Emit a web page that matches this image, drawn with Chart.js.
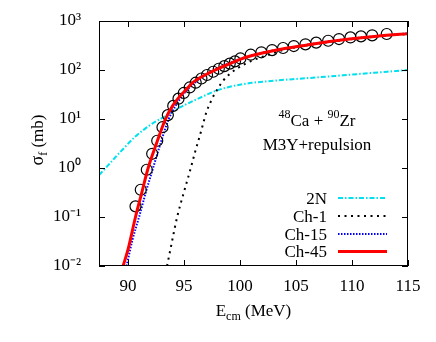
<!DOCTYPE html>
<html>
<head>
<meta charset="utf-8">
<script src="https://cdn.jsdelivr.net/npm/chart.js@4.4.1/dist/chart.umd.min.js"></script>
<style>
  html, body { margin: 0; padding: 0; background: #fff; }
  canvas { display: block; }
</style>
</head>
<body>
<canvas id="fusionChart" width="436" height="342"></canvas>
<script>
// ---------------------------------------------------
// 48Ca + 90Zr fusion cross section, M3Y+repulsion
// ---------------------------------------------------

// Experimental points (open circles)
var expEnergy = [90.66, 91.13, 91.67, 92.15, 92.6, 93.07, 93.55, 94.03, 94.5, 94.97,
                 95.5, 96.04, 96.55, 97.05, 97.6, 98.1, 98.6, 99.08, 99.55, 100.03,
                 100.95, 101.9, 102.86, 103.84, 104.8, 105.84, 106.8, 107.87, 108.84,
                 109.86, 110.8, 111.8, 113.1];
var expSigma = [0.165, 0.36, 0.92, 1.95, 3.6, 6.8, 12, 18.5, 26, 34,
                44, 55, 67, 79, 92, 106, 120, 135, 150, 172,
                205, 230, 255, 281, 308, 334, 362, 395, 428,
                462, 486, 510, 543];

// 2N (no coupling)
var energy2N = [87.4, 88.0, 88.8, 89.6, 90.6, 91.5, 92.4, 93.2, 94.0, 95.0, 96.4,
                97.9, 99.0, 100.6, 102.5, 104.7, 107.0, 109.2, 112.0, 115.0];
var sigma2N = [0.72, 1.0, 1.6, 2.5, 4.3, 6.3, 8.7, 11, 14.5, 19, 27,
               38, 45, 53, 59, 65, 71, 78, 88, 100];

// Ch-1
var energyCh1 = [93.48, 93.9, 94.38, 95.0, 95.6, 96.0, 96.4, 96.7, 97.0, 97.4, 97.74,
                 98.48, 99.0, 99.68, 100.5, 101.2, 102.4, 104.0, 106.0, 110.0, 115.0];
var sigmaCh1 = [0.01, 0.03, 0.1, 0.33, 1.0, 2.2, 4.5, 8, 14, 23, 33,
                60, 80, 105, 135, 160, 200, 260, 318, 428, 545];

// Ch-15
var energyCh15 = [89.86, 90.4, 90.98, 91.6, 92.23, 92.9, 93.63, 94.2, 94.8, 95.5, 96.5,
                  98.0, 100.0, 102.0, 105.0, 108.0, 111.0, 115.0];
var sigmaCh15 = [0.01, 0.035, 0.1, 0.33, 1.0, 3.2, 10, 18, 29, 44, 68,
                 108, 168, 225, 300, 385, 462, 560];

// Ch-45
var energyCh45 = [89.55, 90.0, 90.66, 91.2, 91.79, 92.5, 93.34, 94.0, 94.5, 95.0, 95.8,
                  97.0, 98.0, 99.0, 100.0, 101.0, 102.0, 104.0, 106.0, 108.0, 110.0, 112.0, 115.0];
var sigmaCh45 = [0.01, 0.022, 0.1, 0.3, 1.0, 3.0, 10, 19, 27, 36, 56,
                 82, 106, 132, 165, 195, 222, 275, 325, 382, 435, 485, 550];

// Axis ticks
var xTicks = [90, 95, 100, 105, 110, 115];
var yTicks = [0.01, 0.1, 1, 10, 100, 1000];
var yTickLabels = ['10\u207B\u00B2', '10\u207B\u00B9', '10\u2070', '10\u00B9', '10\u00B2', '10\u00B3'];

var SERIF = "'Liberation Serif', 'Times New Roman', serif";

function toPoints(xs, ys) {
  return xs.map(function(x, i) { return { x: x, y: ys[i] }; });
}

function curve(label, xs, ys, color, width, dash) {
  return {
    label: label,
    data: toPoints(xs, ys),
    showLine: true,
    borderColor: color,
    backgroundColor: color,
    borderWidth: width,
    borderDash: dash,
    borderCapStyle: 'butt',
    pointRadius: 0,
    cubicInterpolationMode: 'monotone'
  };
}

// draw text made of parts [{t, size, dy}] starting at x
function drawParts(ctx, parts, x, y) {
  parts.forEach(function(p) {
    ctx.font = p.size + 'px ' + SERIF;
    ctx.fillText(p.t, x, y + (p.dy || 0));
    x += ctx.measureText(p.t).width;
  });
}

function partsWidth(ctx, parts) {
  var w = 0;
  parts.forEach(function(p) {
    ctx.font = p.size + 'px ' + SERIF;
    w += ctx.measureText(p.t).width;
  });
  return w;
}

/**
 * Frame, inward ticks, axis titles, annotation and legend (gnuplot style)
 */
var decorations = {
  id: 'decorations',
  afterDraw: function(chart) {
    var ctx = chart.ctx;
    var a = chart.chartArea;
    var xs = chart.scales.x;
    var ys = chart.scales.y;

    ctx.save();
    ctx.strokeStyle = '#000';
    ctx.lineWidth = 1;
    ctx.setLineDash([]);
    ctx.strokeRect(a.left + 0.5, a.top + 0.5, a.right - a.left - 1, a.bottom - a.top - 1);

    ctx.beginPath();
    xTicks.forEach(function(v) {
      var px = Math.round(xs.getPixelForValue(v)) + 0.5;
      ctx.moveTo(px, a.bottom); ctx.lineTo(px, a.bottom - 6);
      ctx.moveTo(px, a.top); ctx.lineTo(px, a.top + 6);
    });
    yTicks.forEach(function(v) {
      var py = Math.round(ys.getPixelForValue(v)) + 0.5;
      ctx.moveTo(a.left, py); ctx.lineTo(a.left + 6, py);
      ctx.moveTo(a.right, py); ctx.lineTo(a.right - 6, py);
    });
    ctx.stroke();

    ctx.fillStyle = '#000';
    ctx.textBaseline = 'alphabetic';
    ctx.textAlign = 'left';

    // x axis title
    var xTitle = [{ t: 'E', size: 17 }, { t: 'cm', size: 12, dy: 4 }, { t: ' (MeV)', size: 17 }];
    var cx = (a.left + a.right) / 2;
    drawParts(ctx, xTitle, cx - partsWidth(ctx, xTitle) / 2, 316);

    // y axis title (rotated)
    var yTitle = [{ t: '\u03C3', size: 18 }, { t: 'f', size: 12, dy: 4 }, { t: ' (mb)', size: 17 }];
    ctx.save();
    ctx.translate(43, 140);
    ctx.rotate(-Math.PI / 2);
    drawParts(ctx, yTitle, -partsWidth(ctx, yTitle) / 2, 0);
    ctx.restore();

    // annotation
    var line1 = [{ t: '48', size: 12, dy: -8 }, { t: 'Ca + ', size: 17 }, { t: '90', size: 12, dy: -8 }, { t: 'Zr', size: 17 }];
    drawParts(ctx, line1, 317 - partsWidth(ctx, line1) / 2, 126);
    ctx.font = '17px ' + SERIF;
    ctx.textAlign = 'center';
    ctx.fillText('M3Y+repulsion', 317, 150);

    // legend
    var legendOrder = ['2N', 'Ch-1', 'Ch-15', 'Ch-45'];
    var rowY = [203.5, 221.5, 239.5, 257];
    legendOrder.forEach(function(name, i) {
      var ds = chart.data.datasets.filter(function(d) { return d.label === name; })[0];
      ctx.font = '17px ' + SERIF;
      ctx.textAlign = 'right';
      ctx.fillStyle = '#000';
      ctx.fillText(name, 327, rowY[i]);
      ctx.beginPath();
      ctx.strokeStyle = ds.borderColor;
      ctx.lineWidth = ds.borderWidth;
      ctx.setLineDash(ds.borderDash || []);
      ctx.lineCap = 'butt';
      ctx.moveTo(338, rowY[i] - 5.5);
      ctx.lineTo(387, rowY[i] - 5.5);
      ctx.stroke();
    });
    ctx.restore();
  }
};

new Chart(document.getElementById('fusionChart').getContext('2d'), {
  type: 'scatter',
  data: {
    datasets: [
      curve('Ch-45', energyCh45, sigmaCh45, '#ff0000', 3, []),
      {
        label: 'Exp',
        data: toPoints(expEnergy, expSigma),
        showLine: false,
        pointStyle: 'circle',
        pointRadius: 5.5,
        pointBorderWidth: 1.2,
        pointBorderColor: '#000',
        pointBackgroundColor: 'rgba(0,0,0,0)',
        borderColor: '#000',
        backgroundColor: 'rgba(0,0,0,0)'
      },
      curve('Ch-15', energyCh15, sigmaCh15, '#0000ff', 2, [1.5, 1.5]),
      curve('Ch-1', energyCh1, sigmaCh1, '#000000', 2, [2, 4.5]),
      curve('2N', energy2N, sigma2N, '#00e0ee', 2, [5, 2, 1.5, 2])
    ]
  },
  options: {
    responsive: false,
    animation: false,
    events: [],
    layout: { padding: { top: 21, right: 28, left: 0, bottom: 0 } },
    plugins: {
      legend: { display: false },
      tooltip: { enabled: false }
    },
    scales: {
      x: {
        type: 'linear',
        min: 87.4,
        max: 115,
        grid: { display: false },
        border: { display: false },
        afterBuildTicks: function(scale) {
          scale.ticks = xTicks.map(function(v) { return { value: v }; });
        },
        afterFit: function(scale) { scale.height = 76; },
        ticks: {
          autoSkip: false,
          maxRotation: 0,
          padding: 2,
          color: '#000',
          font: { family: SERIF, size: 17 }
        }
      },
      y: {
        type: 'logarithmic',
        min: 0.01,
        max: 1000,
        grid: { display: false },
        border: { display: false },
        afterBuildTicks: function(scale) {
          scale.ticks = yTicks.map(function(v) { return { value: v }; });
        },
        afterFit: function(scale) { scale.width = 99; },
        ticks: {
          autoSkip: false,
          padding: 10,
          color: '#000',
          font: { family: SERIF, size: 17 },
          callback: function(value) {
            var i = yTicks.indexOf(value);
            return i >= 0 ? yTickLabels[i] : '';
          }
        }
      }
    }
  },
  plugins: [decorations]
});
</script>
</body>
</html>
